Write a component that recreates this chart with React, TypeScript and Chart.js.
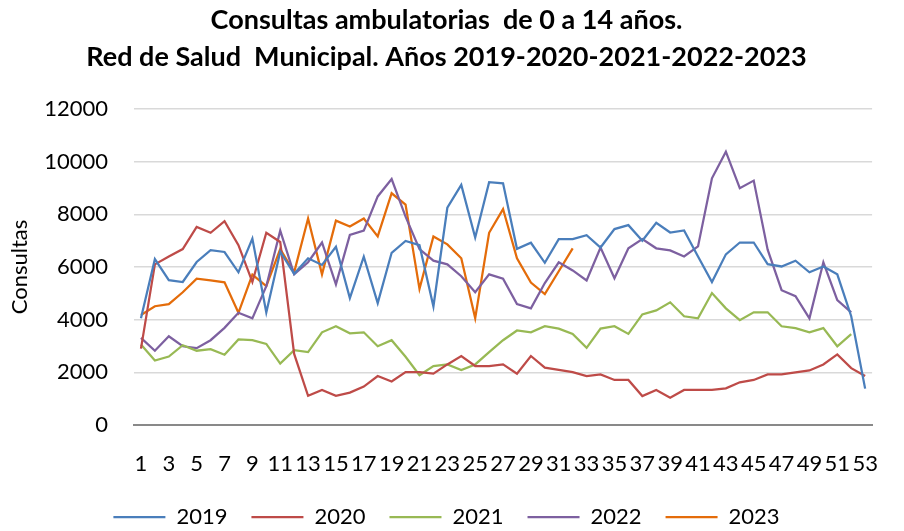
import React, { useEffect, useRef } from 'react';
import { Chart, registerables } from 'chart.js';

Chart.register(...registerables);

const weeks = ['1','2','3','4','5','6','7','8','9','10','11','12','13','14','15','16','17','18','19','20','21','22','23','24','25','26','27','28','29','30','31','32','33','34','35','36','37','38','39','40','41','42','43','44','45','46','47','48','49','50','51','52','53'];

const y2019 = [4050,6300,5500,5430,6190,6640,6570,5800,7080,4270,6580,5740,6330,6080,6770,4820,6390,4630,6540,6990,6830,4500,8250,9120,7120,9220,9180,6690,6920,6160,7060,7060,7210,6740,7440,7590,7000,7680,7310,7390,6400,5430,6480,6930,6930,6110,6020,6240,5800,6020,5720,4130,1380];
const y2020 = [2900,6100,6400,6680,7520,7300,7740,6830,5430,7300,6950,2700,1110,1330,1110,1230,1460,1860,1650,2010,2010,1950,2300,2620,2240,2240,2300,1950,2620,2180,2090,2010,1860,1920,1710,1710,1100,1330,1040,1330,1330,1330,1390,1620,1710,1920,1920,2000,2070,2300,2680,2160,1860];
const y2021 = [3060,2450,2600,3030,2820,2880,2670,3250,3220,3080,2330,2840,2770,3520,3750,3480,3520,2990,3220,2590,1890,2240,2300,2090,2300,2770,3220,3590,3520,3750,3660,3460,2930,3660,3750,3460,4200,4350,4660,4130,4050,5010,4430,3980,4280,4280,3750,3680,3520,3680,2990,3450];
const y2022 = [3310,2820,3370,2990,2920,3220,3690,4260,4050,5270,7380,5720,6180,6930,5340,7220,7380,8680,9340,7910,6680,6240,6100,5650,5040,5720,5560,4590,4430,5390,6180,5870,5490,6740,5570,6710,7060,6710,6630,6400,6780,9370,10380,8990,9280,6660,5120,4890,4050,6180,4740,4280];
const y2023 = [4180,4510,4590,5040,5560,5490,5420,4260,5710,5270,6680,5800,7840,5720,7760,7540,7840,7160,8800,8370,5170,7160,6860,6330,4060,7300,8200,6330,5410,4970,5840,6710];

const seriesNames = ['2019', '2020', '2021', '2022', '2023'];
const titleLines = ['Consultas ambulatorias  de 0 a 14 años.', 'Red de Salud  Municipal. Años 2019-2020-2021-2022-2023'];
const yTitle = 'Consultas';

const COLORS = ['#4A7EBB', '#BE4B48', '#98B954', '#7D60A0', '#E46C0A'];

export default function App() {
  const ref = useRef<HTMLCanvasElement>(null);

  useEffect(() => {
    const canvas = ref.current;
    if (!canvas) return;
    const baseFont = { family: 'Lato', size: 22 };
    const mk = (label: string, data: number[], color: string) => ({
      label,
      data,
      borderColor: color,
      backgroundColor: color,
      borderWidth: 2.25,
      pointRadius: 0,
      pointHoverRadius: 0,
      tension: 0,
      fill: false,
    });
    const chart = new Chart(canvas, {
      type: 'line',
      data: {
        labels: weeks,
        datasets: [
          mk(seriesNames[0], y2019, COLORS[0]),
          mk(seriesNames[1], y2020, COLORS[1]),
          mk(seriesNames[2], y2021, COLORS[2]),
          mk(seriesNames[3], y2022, COLORS[3]),
          mk(seriesNames[4], y2023, COLORS[4]),
        ],
      },
      options: {
        responsive: false,
        animation: false,
        events: [],
        layout: { padding: { left: 0, right: 11, top: 0, bottom: -7 } },
        plugins: {
          title: {
            display: true,
            text: titleLines,
            color: '#000',
            font: { family: 'Lato', size: 27, weight: 'bold', lineHeight: '37px' },
            padding: { top: 2, bottom: 33 },
          },
          legend: {
            position: 'bottom',
            labels: {
              boxWidth: 52,
              boxHeight: 0,
              padding: 24,
              color: '#000',
              font: baseFont,
            },
          },
          tooltip: { enabled: false },
        },
        scales: {
          x: {
            offset: true,
            grid: { display: false, drawTicks: false },
            border: { display: true, color: '#898989', width: 2 },
            ticks: {
              autoSkip: false,
              maxRotation: 0,
              minRotation: 0,
              padding: 26,
              color: '#000',
              font: baseFont,
              callback: (_v: any, i: number) => (i % 2 === 0 ? weeks[i] : ''),
            },
            afterFit: (s: any) => { s.height = 57; },
          },
          y: {
            min: 0,
            max: 12000,
            ticks: {
              stepSize: 2000,
              padding: 26,
              color: '#000',
              font: baseFont,
              callback: (v: any) => String(v),
            },
            grid: {
              drawTicks: false,
              color: (c: any) => (c.tick && c.tick.value === 0 ? '#898989' : '#D9D9D9'),
              lineWidth: (c: any) => (c.tick && c.tick.value === 0 ? 2 : 1.5),
            },
            border: { display: false },
            title: {
              display: true,
              text: yTitle,
              color: '#000',
              font: baseFont,
              padding: { top: 7, bottom: 0 },
            },
            afterFit: (s: any) => { s.width = 134; },
          },
        },
      },
    } as any);
    return () => chart.destroy();
  }, []);

  return (
    <canvas
      ref={ref}
      width={904}
      height={531}
      style={{ position: 'absolute', left: 0, top: 0, display: 'block' }}
    />
  );
}
